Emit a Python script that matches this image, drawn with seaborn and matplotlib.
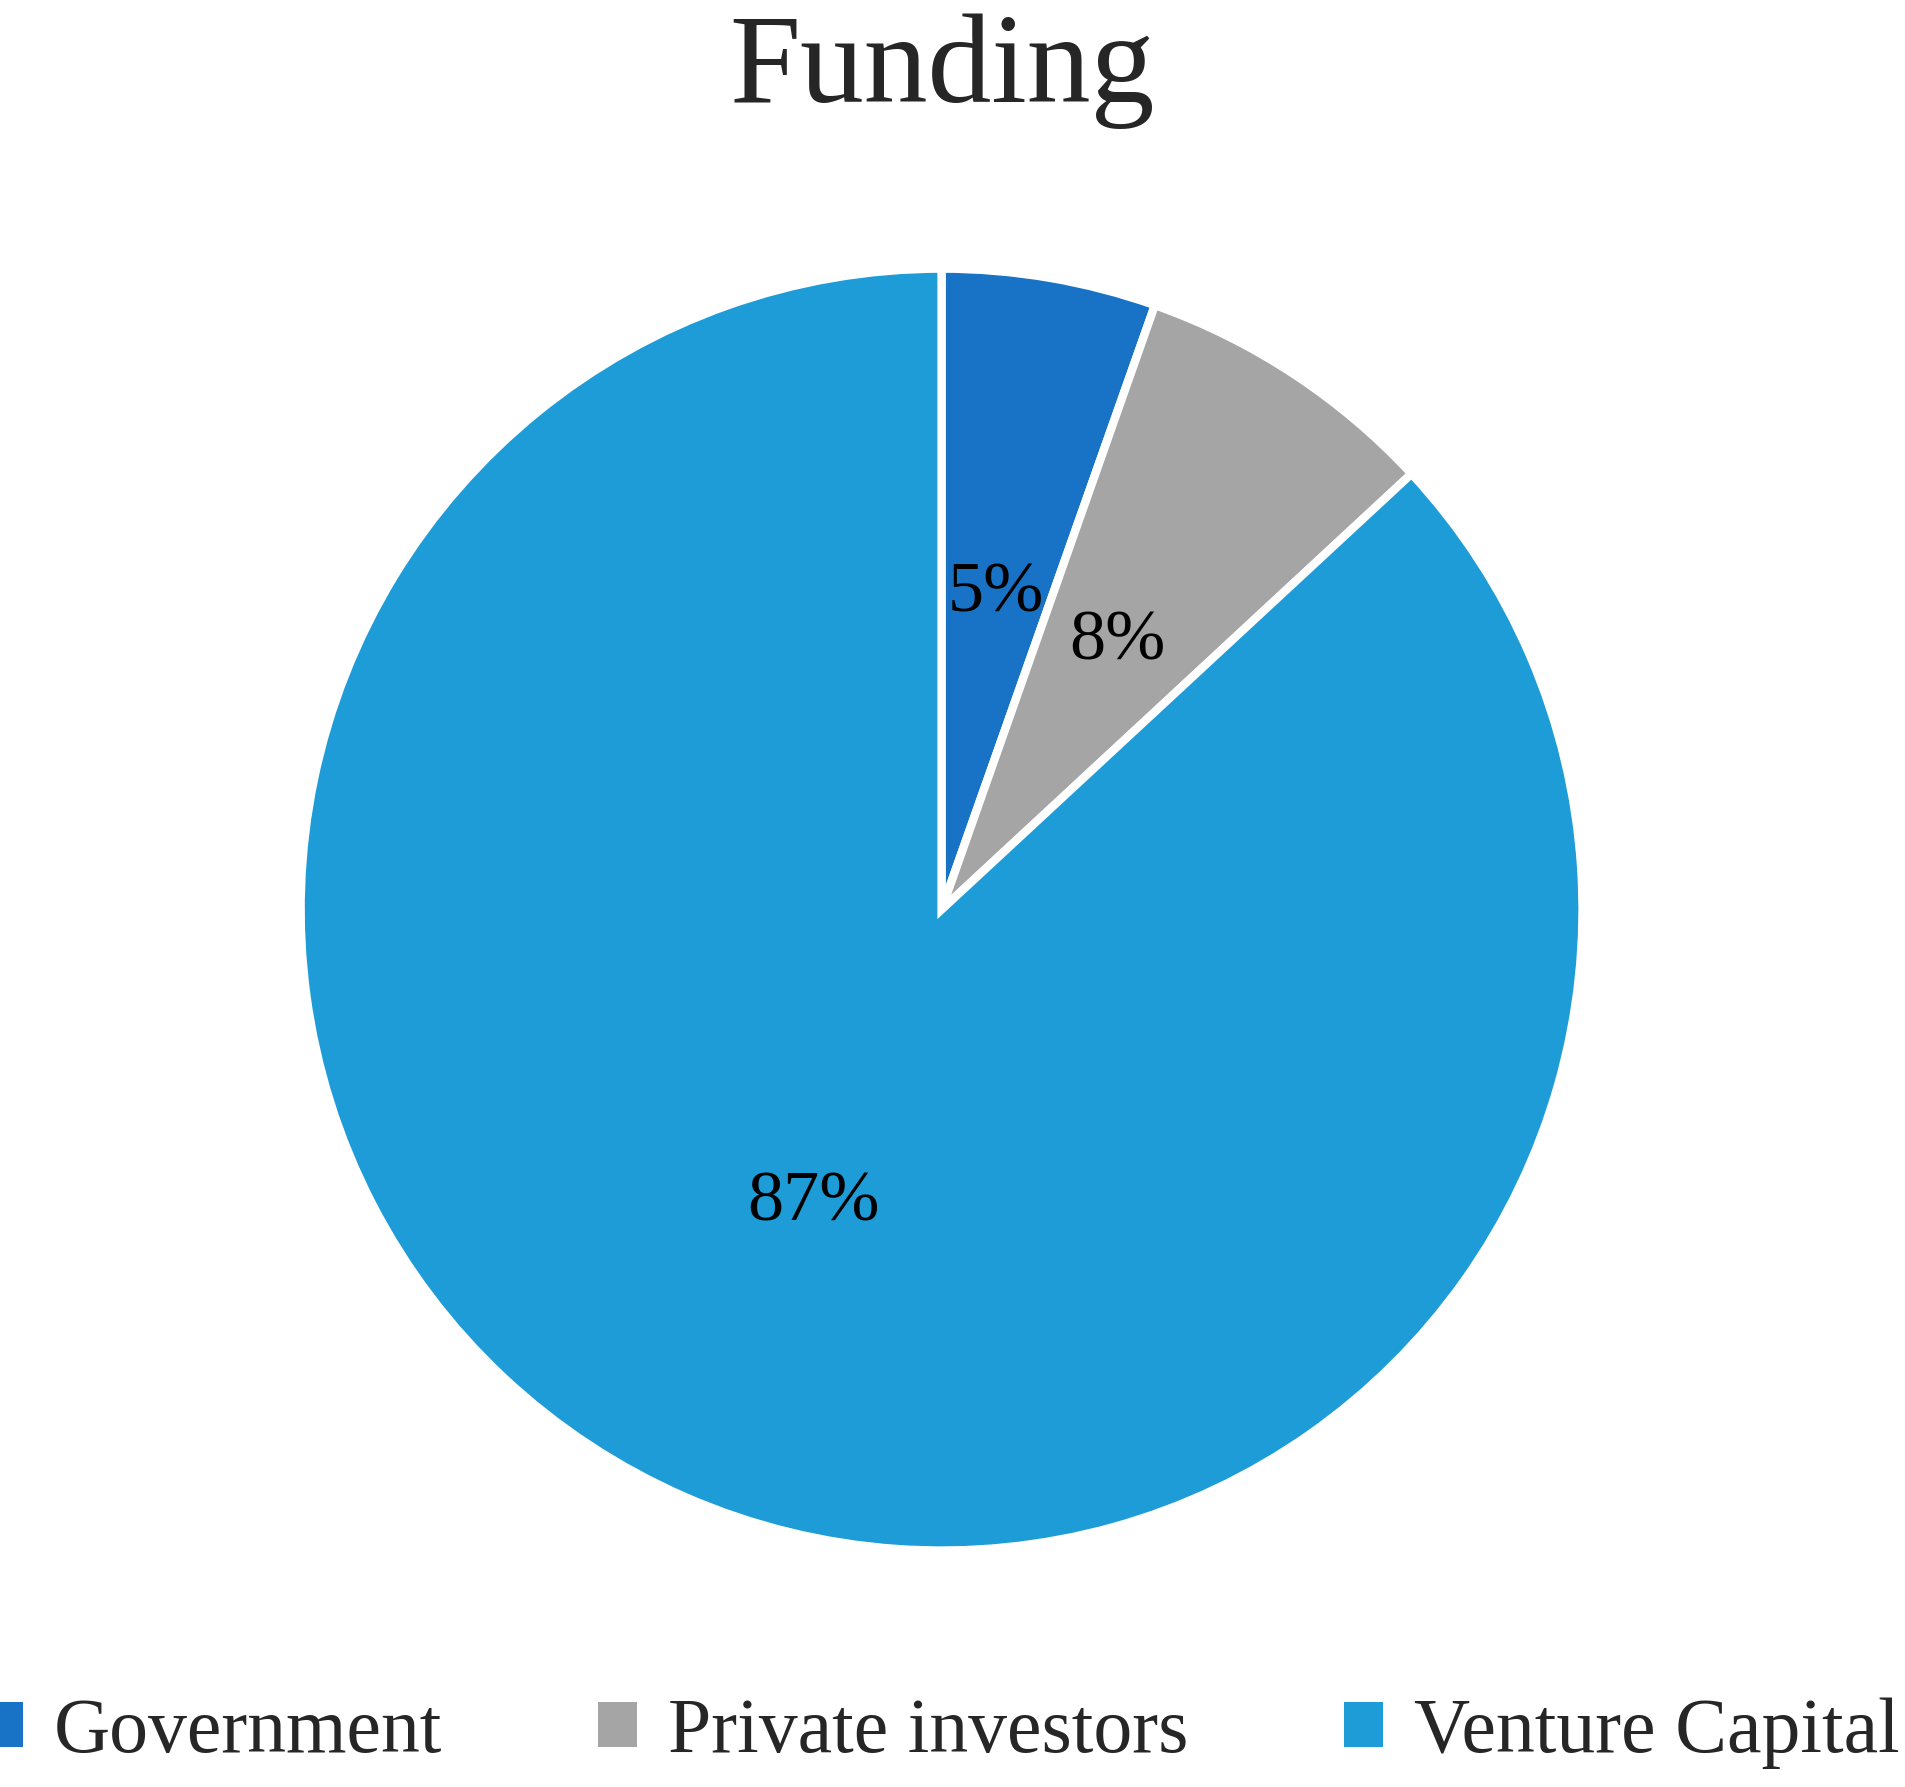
import matplotlib
matplotlib.use("Agg")
import matplotlib.pyplot as plt
import seaborn as sns
from matplotlib.patches import Patch

categories = ["Government", "Private investors", "Venture Capital"]
values = [5.4, 7.7, 86.9]
labels_pct = ["5%", "8%", "87%"]
colors = ["#1872C6", "#A5A5A5", "#1E9CD7"]

sns.set_theme(style="white")
plt.rcParams['font.family'] = ['Liberation Serif', 'DejaVu Serif']

fig = plt.figure(figsize=(19.06, 17.87), dpi=100)
ax = fig.add_axes([0.494 - 0.343, 0.491 - 0.366, 0.686, 0.732])
wedges, _ = ax.pie(values, colors=colors, startangle=90, counterclock=False,
                   wedgeprops=dict(edgecolor="white", linewidth=6))
import numpy as np
start = 90.0
for w, lab, v in zip(wedges, labels_pct, values):
    mid = np.deg2rad((w.theta1 + w.theta2) / 2)
    r = 0.5
    ax.text(r * np.cos(mid), r * np.sin(mid), lab, ha="center", va="center", fontsize=52, color="black")
ax.set_xlim(-1.02, 1.02); ax.set_ylim(-1.02, 1.02)
ax.set_aspect("equal")
ax.axis("off")

fig.text(0.494, 0.96, "Funding", ha="center", va="center", fontsize=92)
handles = [Patch(facecolor=c, edgecolor="none") for c in colors]
fig.legend(handles, categories, loc="center", bbox_to_anchor=(0.494, 0.03), ncol=3,
           frameon=False, fontsize=56, handlelength=0.5, handleheight=0.5,
           handletextpad=0.4, columnspacing=2.0)
fig.savefig("out.png", dpi=100)
